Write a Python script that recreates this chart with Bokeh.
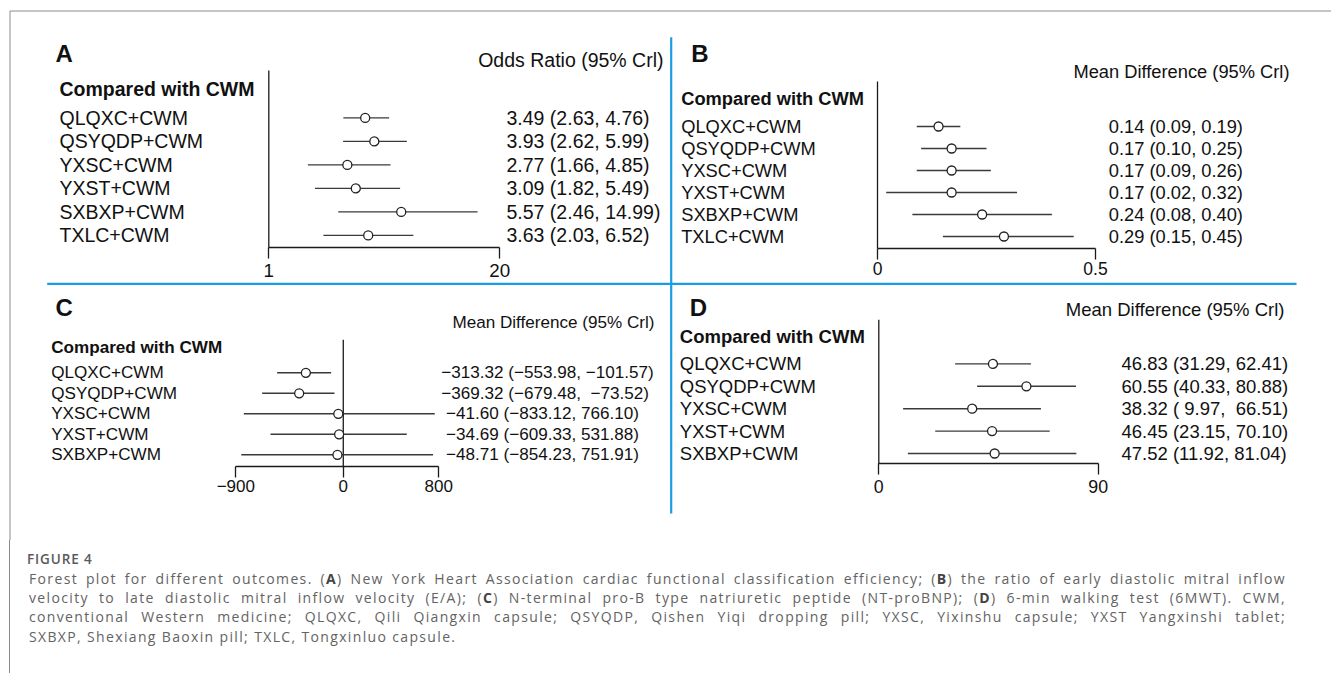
import math
from bokeh.plotting import figure
from bokeh.models import (Range1d, LinearAxis, LogAxis, LogScale, LinearScale,
                          FixedTicker, Div, ColumnDataSource)
from bokeh.layouts import column
from bokeh.embed import file_html
from bokeh.resources import INLINE
from bokeh.core.properties import value

# ---------------------------------------------------------------- data
labels6 = ["QLQXC+CWM", "QSYQDP+CWM", "YXSC+CWM", "YXST+CWM", "SXBXP+CWM", "TXLC+CWM"]
labels5 = ["QLQXC+CWM", "QSYQDP+CWM", "YXSC+CWM", "YXST+CWM", "SXBXP+CWM"]

A_est = [3.49, 3.93, 2.77, 3.09, 5.57, 3.63]
A_lo = [2.63, 2.62, 1.66, 1.82, 2.46, 2.03]
A_hi = [4.76, 5.99, 4.85, 5.49, 14.99, 6.52]
A_text = ["3.49 (2.63, 4.76)", "3.93 (2.62, 5.99)", "2.77 (1.66, 4.85)",
          "3.09 (1.82, 5.49)", "5.57 (2.46, 14.99)", "3.63 (2.03, 6.52)"]
A_ticks = [1, 20]
A_tick_labels = ["1", "20"]

B_est = [0.14, 0.17, 0.17, 0.17, 0.24, 0.29]
B_lo = [0.09, 0.10, 0.09, 0.02, 0.08, 0.15]
B_hi = [0.19, 0.25, 0.26, 0.32, 0.40, 0.45]
B_text = ["0.14 (0.09, 0.19)", "0.17 (0.10, 0.25)", "0.17 (0.09, 0.26)",
          "0.17 (0.02, 0.32)", "0.24 (0.08, 0.40)", "0.29 (0.15, 0.45)"]
B_ticks = [0, 0.5]
B_tick_labels = ["0", "0.5"]

C_est = [-313.32, -369.32, -41.60, -34.69, -48.71]
C_lo = [-553.98, -679.48, -833.12, -609.33, -854.23]
C_hi = [-101.57, -73.52, 766.10, 531.88, 751.91]
C_text = ["\u2212313.32 (\u2212553.98, \u2212101.57)",
          "\u2212369.32 (\u2212679.48, \u00a0\u221273.52)",
          "\u00a0\u221241.60 (\u2212833.12, 766.10)",
          "\u00a0\u221234.69 (\u2212609.33, 531.88)",
          "\u00a0\u221248.71 (\u2212854.23, 751.91)"]
C_ticks = [-900, 0, 800]
C_tick_labels = ["\u2212900", "0", "800"]

D_est = [46.83, 60.55, 38.32, 46.45, 47.52]
D_lo = [31.29, 40.33, 9.97, 23.15, 11.92]
D_hi = [62.41, 80.88, 66.51, 70.10, 81.04]
D_text = ["46.83 (31.29, 62.41)", "60.55 (40.33, 80.88)", "38.32 (\u00a09.97, \u00a066.51)",
          "46.45 (23.15, 70.10)", "47.52 (11.92, 81.04)"]
D_ticks = [0, 90]
D_tick_labels = ["0", "90"]

header = "Compared with CWM"
measures = {"A": "Odds Ratio (95% Crl)", "B": "Mean Difference (95% Crl)",
            "C": "Mean Difference (95% Crl)", "D": "Mean Difference (95% Crl)"}

caption_title = "FIGURE 4"
caption_lines = [
    "Forest plot for different outcomes. (<b>A</b>) New York Heart Association cardiac functional classification efficiency; (<b>B</b>) the ratio of early diastolic mitral inflow",
    "velocity to late diastolic mitral inflow velocity (E/A); (<b>C</b>) N-terminal pro-B type natriuretic peptide (NT-proBNP); (<b>D</b>) 6-min walking test (6MWT). CWM,",
    "conventional Western medicine; QLQXC, Qili Qiangxin capsule; QSYQDP, Qishen Yiqi dropping pill; YXSC, Yixinshu capsule; YXST Yangxinshi tablet;",
    "SXBXP, Shexiang Baoxin pill; TXLC, Tongxinluo capsule.",
]

# ---------------------------------------------------------------- layout (pixels)
W, H = 1331, 540
FONT = "Liberation Sans"
TXT = "#111111"
CI_COL = "#3a3a3a"
BLUE = "#1b9de2"
GRAY = "#8c8c8c"

panels = [
    dict(key="A", labels=labels6, est=A_est, lo=A_lo, hi=A_hi, text=A_text,
         ticks=A_ticks, tick_labels=A_tick_labels, log=True, null=1,
         letter_xy=(55, 53), measure_xy=(663, 59.5), header_xy=(59, 88),
         label_x=59, num_x=506, row0=117.4, drow=23.5,
         axis_px=(268.3, 499.3), axis_y=246.7, null_top=70,
         fs=19.5, tick_fs=18.8, standoff=6),
    dict(key="B", labels=labels6, est=B_est, lo=B_lo, hi=B_hi, text=B_text,
         ticks=B_ticks, tick_labels=B_tick_labels, log=False, null=0,
         letter_xy=(690.7, 53), measure_xy=(1289, 71), header_xy=(680.7, 98.3),
         label_x=680.7, num_x=1108.3, row0=126, drow=22,
         axis_px=(877, 1095), axis_y=247.7, null_top=81,
         fs=18.3, tick_fs=17.5, standoff=3),
    dict(key="C", labels=labels5, est=C_est, lo=C_lo, hi=C_hi, text=C_text,
         ticks=C_ticks, tick_labels=C_tick_labels, log=False, null=0,
         letter_xy=(55, 306.7), measure_xy=(654, 321.7), header_xy=(50.7, 346.7),
         label_x=50.7, num_x=440.7, row0=372.3, drow=20.5,
         axis_px=(235.3, 438.3), axis_y=466, null_top=339.3,
         fs=17.1, tick_fs=17, standoff=2),
    dict(key="D", labels=labels5, est=D_est, lo=D_lo, hi=D_hi, text=D_text,
         ticks=D_ticks, tick_labels=D_tick_labels, log=False, null=0,
         letter_xy=(689.3, 306.7), measure_xy=(1284, 309.3), header_xy=(679.3, 336),
         label_x=679.3, num_x=1121, row0=363.4, drow=22.4,
         axis_px=(878.3, 1097.7), axis_y=463.3, null_top=319.3,
         fs=18.5, tick_fs=17.8, standoff=5),
]

p = figure(width=W, height=H, x_range=Range1d(0, W), y_range=Range1d(H, 0),
           x_axis_location=None, y_axis_location=None, toolbar_location=None,
           output_backend="svg", min_border=0, outline_line_color=None,
           background_fill_color="white", border_fill_color="white")
p.grid.visible = False

# ranges that place each panel's data scale at its pixel position
xr, xs, yr = {}, {}, {}
for c in panels:
    f = math.log10 if c["log"] else (lambda v: v)
    d0, d1 = c["ticks"][0], c["ticks"][-1]
    p0, p1 = c["axis_px"]
    k = (p1 - p0) / (f(d1) - f(d0))
    s = f(d0) - p0 / k
    e = s + W / k
    if c["log"]:
        s, e = 10 ** s, 10 ** e
    xr[c["key"]] = Range1d(s, e)
    xs[c["key"]] = LogScale() if c["log"] else LinearScale()
    yr[c["key"] + "r"] = Range1d(start=(H - c["row0"]) / c["drow"], end=-c["row0"] / c["drow"])
p.extra_x_ranges = xr
p.extra_x_scales = xs
p.extra_y_ranges = yr

# frame decorations
p.segment(x0=[9.5, 9.5], y0=[10.5, 10.5], x1=[W, 9.5], y1=[10.5, H],
          line_color=GRAY, line_width=1)
p.segment(x0=[46.7, 670.7], y0=[283.3, 36.7], x1=[1296, 670.7], y1=[283.3, 513],
          line_color=BLUE, line_width=2.2)

for c in panels:
    key = c["key"]
    rk = key + "r"
    fs = value(f"{c['fs']}px")
    src = ColumnDataSource(dict(row=list(range(len(c["labels"]))), label=c["labels"],
                                est=c["est"], lo=c["lo"], hi=c["hi"], txt=c["text"]))
    # null line
    p.segment(x0=[c["null"]], x1=[c["null"]], y0=[c["null_top"]], y1=[c["axis_y"]],
              x_range_name=key, line_color="#1a1a1a", line_width=1.3)
    # CIs and estimates
    p.segment(x0="lo", x1="hi", y0="row", y1="row", source=src,
              x_range_name=key, y_range_name=rk, line_color=CI_COL, line_width=1.4)
    p.scatter(x="est", y="row", source=src, x_range_name=key, y_range_name=rk,
              marker="circle", size=9, fill_color="white", line_color="#222222",
              line_width=1.3)
    # texts
    p.text(x=c["label_x"], y="row", text="label", source=src, y_range_name=rk,
           text_font=value(FONT), text_font_size=fs, text_color=TXT,
           text_align="left", text_baseline="middle")
    p.text(x=c["num_x"], y="row", text="txt", source=src, y_range_name=rk,
           text_font=value(FONT), text_font_size=fs, text_color=TXT,
           text_align="left", text_baseline="middle")
    p.text(x=[c["header_xy"][0]], y=[c["header_xy"][1]], text=[header],
           text_font=value(FONT), text_font_size=fs, text_font_style="bold",
           text_color=TXT, text_align="left", text_baseline="middle")
    p.text(x=[c["measure_xy"][0]], y=[c["measure_xy"][1]], text=[measures[key]],
           text_font=value(FONT), text_font_size=fs, text_color=TXT,
           text_align="right", text_baseline="middle")
    p.text(x=[c["letter_xy"][0]], y=[c["letter_xy"][1]], text=[key],
           text_font=value(FONT), text_font_size=value("24px"), text_font_style="bold",
           text_color=TXT, text_align="left", text_baseline="middle")
    # bottom axis of the panel
    Ax = LogAxis if c["log"] else LinearAxis
    ax = Ax(x_range_name=key, fixed_location=c["axis_y"],
            bounds=(c["ticks"][0], c["ticks"][-1]),
            ticker=FixedTicker(ticks=c["ticks"], minor_ticks=[]),
            major_label_overrides=dict(zip(c["ticks"], c["tick_labels"])),
            axis_line_color="#1a1a1a", axis_line_width=1.3,
            major_tick_line_color="#1a1a1a", major_tick_line_width=1.3,
            major_tick_out=11, major_tick_in=0, minor_tick_line_color=None,
            major_label_standoff=int(c["standoff"]), major_label_text_font=FONT,
            major_label_text_font_size=f"{c['tick_fs']}px",
            major_label_text_color=TXT)
    p.add_layout(ax, "below")

# ---------------------------------------------------------------- caption
rows_html = []
for i, ln in enumerate(caption_lines):
    just = "justify" if i < len(caption_lines) - 1 else "left"
    rows_html.append(
        f'<div style="white-space:nowrap;text-align:{just};text-align-last:{just};">{ln}</div>')
cap_html = (
    '<div style="position:relative;width:1331px;height:133px;font-family:\'Open Sans\';color:#636363;">'
    f'<div style="position:absolute;left:9px;top:0px;width:1px;height:133px;background:{GRAY};"></div>'
    f'<div style="position:absolute;left:27px;top:9px;font-size:13.5px;font-weight:600;letter-spacing:0.9px;line-height:20px;color:#5a5a5a;">{caption_title}</div>'
    '<div style="position:absolute;left:29px;top:28.7px;width:1257px;font-size:14px;letter-spacing:1.35px;line-height:19.3px;">'
    + "".join(rows_html) +
    '</div></div>'
).replace("<b>", '<b style="color:#444;font-weight:700;">')
div = Div(text=cap_html, width=W, height=133, margin=(0, 0, 0, 0))

layout = column(p, div, spacing=0)
open("out.html", "w").write(file_html(layout, INLINE))
